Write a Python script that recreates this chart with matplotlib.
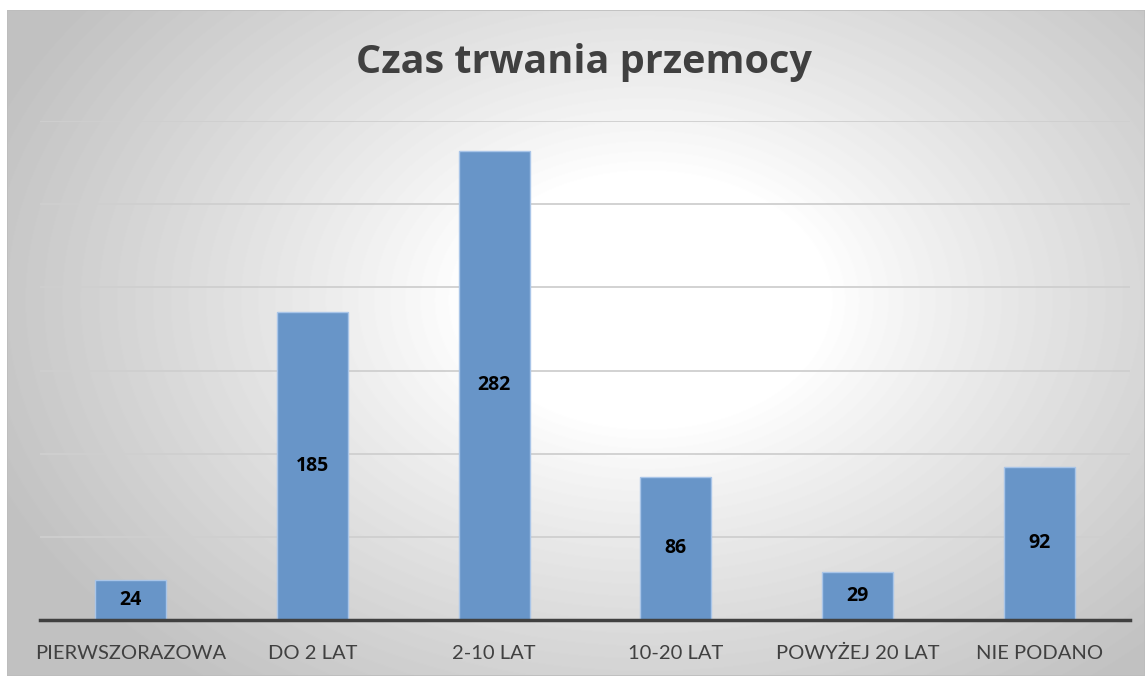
import numpy as np
import matplotlib
matplotlib.use("Agg")
import matplotlib.pyplot as plt

categories = ["PIERWSZORAZOWA", "DO 2 LAT", "2-10 LAT", "10-20 LAT", "POWYŻEJ 20 LAT", "NIE PODANO"]
values = [24, 185, 282, 86, 29, 92]

W, H = 1145, 676
fig = plt.figure(figsize=(W / 100, H / 100), dpi=100)

# background panel with radial gradient (white plateau in the middle, gray corners)
bg = fig.add_axes([7 / W, 0, 1 - 7 / W, 1 - 10 / H])
yy, xx = np.mgrid[0:666, 0:1138]
cx, cy = 640, 290
r = np.sqrt((xx - cx) ** 2 + ((yy - cy) / 0.7) ** 2)
r0, r1 = 180, 700
t = np.clip((r - r0) / (r1 - r0), 0, 1)
shade = 1.0 - 0.24 * t ** 0.9
bg.imshow(shade, cmap="gray", vmin=0, vmax=1, aspect="auto", extent=[0, 1, 0, 1])
bg.set_axis_off()
bg.add_patch(plt.Rectangle((0, 0), 1, 1, transform=bg.transAxes, fill=False,
                           edgecolor="#bdbdbd", lw=1.2))

# plot area: x 40..1130, y 121..620 (pixels from top)
ax = fig.add_axes([40 / W, (H - 620) / H, 1090 / W, 499 / H])
ax.patch.set_alpha(0)
x = np.arange(len(categories))
bars = ax.bar(x, values, width=0.39, color="#6895c8", edgecolor="#a9c5e8", linewidth=1, zorder=3)
ax.set_xlim(-0.5, len(categories) - 0.5)
ax.set_ylim(0, 300)
ax.set_yticks(np.arange(0, 301, 50))
ax.yaxis.grid(True, color="#cfcfcf", lw=1.3, zorder=0)
ax.tick_params(axis="y", left=False, labelleft=False)
ax.set_xticks(x)
ax.set_xticklabels(categories, fontsize=14.5, color="#404040", family="Lato")
ax.tick_params(axis="x", length=0, pad=18)
for s in ["top", "right", "left"]:
    ax.spines[s].set_visible(False)
ax.spines["bottom"].set_color("#404040")
ax.spines["bottom"].set_linewidth(2.5)
ax.spines["bottom"].set_zorder(4)

for b, v in zip(bars, values):
    ax.text(b.get_x() + b.get_width() / 2, v / 2, str(v), ha="center", va="center",
            fontsize=14, fontweight="bold", color="black", family="Open Sans", zorder=5)

fig.text(584 / W, 1 - 62 / H, "Czas trwania przemocy", ha="center", va="center",
         fontsize=28.5, fontweight="bold", color="#404040", family="Open Sans")

fig.savefig("out.png", dpi=100)
